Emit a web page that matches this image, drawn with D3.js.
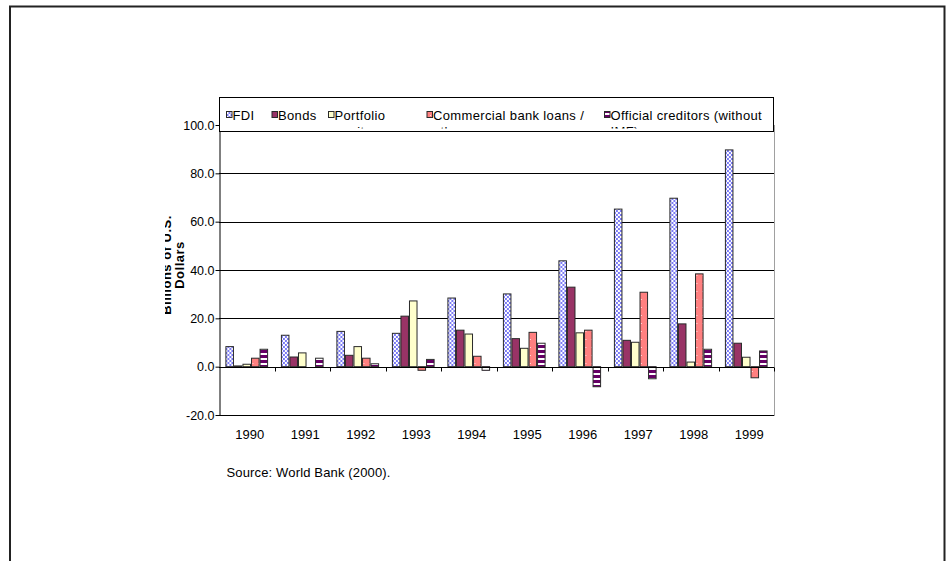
<!DOCTYPE html>
<html>
<head>
<meta charset="utf-8">
<script src="https://cdn.jsdelivr.net/npm/d3@7/dist/d3.min.js"></script>
<style>
  html, body { margin: 0; padding: 0; background: #fff; }
  svg { display: block; font-family: "Liberation Sans", Arial, sans-serif; }
</style>
</head>
<body>
<svg id="chart" width="946" height="561"></svg>
<script>
// Net resource flows, billions of U.S. dollars
const years = ["1990", "1991", "1992", "1993", "1994", "1995", "1996", "1997", "1998", "1999"];
const fdi        = [8.3, 13.0, 14.6, 13.8, 28.4, 30.1, 43.8, 65.2, 69.7, 89.7];
const bonds      = [0.3, 4.0, 4.7, 20.9, 15.1, 11.6, 32.9, 10.9, 17.7, 9.7];
const portfolio  = [1.0, 5.7, 8.3, 27.2, 13.5, 7.6, 14.0, 10.1, 1.9, 3.9];
const commercial = [3.5, 0.0, 3.5, -1.5, 4.3, 14.2, 15.1, 30.8, 38.4, -4.6];
const official   = [7.2, 3.5, 1.2, 3.0, -1.5, 9.7, -8.3, -5.0, 7.2, 6.5];

const seriesNames = ["FDI", "Bonds", "Portfolio", "Commercial bank loans /", "Official creditors (without"];
const seriesSecondLine = ["", "", "equity", "other", "IMF)"];
const seriesValues = [fdi, bonds, portfolio, commercial, official];
const yTicks = [-20, 0, 20, 40, 60, 80, 100];
const sourceNote = "Source: World Bank (2000).";
const axisTitle = ["Billions of U.S.", "Dollars"];

const FONT = "Liberation Sans, Arial, sans-serif";
const svg = d3.select("#chart");
const W = 946, H = 561;

// page frame
svg.append("rect").attr("width", W).attr("height", H).attr("fill", "#fff");
svg.append("path")
  .attr("d", `M10,${H} V6.5 H944.5 V${H}`)
  .attr("fill", "none").attr("stroke", "#222").attr("stroke-width", 2);

// fill patterns
const defs = svg.append("defs");
const pFdi = defs.append("pattern").attr("id", "p-fdi")
  .attr("patternUnits", "userSpaceOnUse").attr("width", 4).attr("height", 4);
pFdi.append("rect").attr("width", 4).attr("height", 4).attr("fill", "#ffffff");
pFdi.append("rect").attr("width", 2).attr("height", 2).attr("fill", "#7b7bf5");
pFdi.append("rect").attr("x", 2).attr("y", 2).attr("width", 2).attr("height", 2).attr("fill", "#7b7bf5");

const pCom = defs.append("pattern").attr("id", "p-com")
  .attr("patternUnits", "userSpaceOnUse").attr("width", 6).attr("height", 8);
pCom.append("rect").attr("width", 6).attr("height", 8).attr("fill", "#ff8080");
pCom.append("rect").attr("x", 3).attr("y", 3).attr("width", 1).attr("height", 1).attr("fill", "#ffe0e0");

const pOff = defs.append("pattern").attr("id", "p-off")
  .attr("patternUnits", "userSpaceOnUse").attr("width", 6).attr("height", 5);
pOff.append("rect").attr("width", 6).attr("height", 5).attr("fill", "#ffffff");
pOff.append("rect").attr("width", 6).attr("height", 3).attr("fill", "#660066");

const fills = ["url(#p-fdi)", "#993366", "#ffffcc", "url(#p-com)", "url(#p-off)"];

// scales
const plot = { left: 219, right: 774, top: 125, bottom: 415 };
const y = d3.scaleLinear().domain([-20, 100]).range([plot.bottom, plot.top]);
const gapRatio = 1.5 / 6.5;
const x0 = d3.scaleBand().domain(years).range([plot.left, plot.right])
  .paddingInner(gapRatio).paddingOuter(gapRatio / 2);
const x1 = d3.scaleBand().domain(d3.range(seriesNames.length)).range([0, x0.bandwidth()]);

// gridlines
svg.append("g").selectAll("line").data(yTicks.filter(v => v > 0))
  .join("line")
  .attr("x1", plot.left).attr("x2", plot.right)
  .attr("y1", d => Math.round(y(d)) + 0.5).attr("y2", d => Math.round(y(d)) + 0.5)
  .attr("stroke", "#000").attr("stroke-width", 1);

// plot area border: bottom dark, right grey
svg.append("line")
  .attr("x1", plot.left).attr("x2", plot.right)
  .attr("y1", Math.round(y(-20)) + 0.5).attr("y2", Math.round(y(-20)) + 0.5)
  .attr("stroke", "#000");
svg.append("line")
  .attr("x1", plot.right + 0.5).attr("x2", plot.right + 0.5)
  .attr("y1", plot.top).attr("y2", plot.bottom + 1)
  .attr("stroke", "#a0a0a0");

// bars
const rows = years.map((yr, i) => ({ year: yr, vals: seriesValues.map(s => s[i]) }));
const groups = svg.append("g").selectAll("g").data(rows).join("g")
  .attr("transform", d => `translate(${x0(d.year)},0)`);
groups.selectAll("rect")
  .data(d => d.vals.map((v, k) => ({ v, k })))
  .join("rect")
  .attr("x", d => x1(d.k) + 0.5)
  .attr("width", x1.bandwidth() - 1)
  .attr("y", d => y(Math.max(0, d.v)))
  .attr("height", d => Math.abs(y(d.v) - y(0)))
  .attr("fill", d => fills[d.k])
  .attr("stroke", "#2a2a2a").attr("stroke-width", 1);

// zero line with category boundary ticks
const zeroY = Math.round(y(0)) + 0.5;
svg.append("line")
  .attr("x1", plot.left).attr("x2", plot.right)
  .attr("y1", zeroY).attr("y2", zeroY)
  .attr("stroke", "#000");
const edgeOffset = (x0.step() - x0.bandwidth()) / 2;
svg.append("g").selectAll("line").data(years)
  .join("line")
  .attr("x1", d => Math.round(x0(d) - edgeOffset + x0.step()) + 0.5)
  .attr("x2", d => Math.round(x0(d) - edgeOffset + x0.step()) + 0.5)
  .attr("y1", zeroY).attr("y2", zeroY + 4)
  .attr("stroke", "#000");

// y axis
const yAxis = svg.append("g")
  .attr("transform", `translate(${plot.left + 0.5},0)`)
  .call(d3.axisLeft(y).tickValues(yTicks).tickFormat(d => d.toFixed(1))
    .tickSize(4).tickSizeOuter(0).tickPadding(1));
yAxis.select(".domain").attr("stroke", "#000");
yAxis.selectAll(".tick line").attr("stroke", "#000");
yAxis.selectAll("text").attr("font-size", "12.5px").attr("fill", "#000")
  .attr("font-family", FONT);

// x axis labels
const xAxis = svg.append("g")
  .attr("transform", `translate(0,${plot.bottom})`)
  .call(d3.axisBottom(x0).tickSize(0).tickPadding(15));
xAxis.select(".domain").remove();
xAxis.selectAll("text").attr("font-size", "13px").attr("fill", "#000")
  .attr("dx", 3).attr("font-family", FONT);

// y axis title (first line runs past the chart edge and is cut)
defs.append("clipPath").attr("id", "clip-title")
  .append("rect").attr("x", 165).attr("y", 0).attr("width", 60).attr("height", H);
const title = svg.append("g").attr("clip-path", "url(#clip-title)")
  .append("g").attr("transform", "translate(170.5,265) rotate(-90)");
title.selectAll("text").data(axisTitle).join("text")
  .attr("x", 0).attr("y", (d, i) => i * 13.5)
  .attr("text-anchor", "middle")
  .attr("font-size", "13px").attr("font-weight", "bold")
  .attr("letter-spacing", "0.5px")
  .attr("fill", "#000")
  .text(d => d);

// legend
const legend = svg.append("g");
legend.append("rect")
  .attr("x", 219.5).attr("y", 97.5).attr("width", 554).attr("height", 34)
  .attr("fill", "#fff").attr("stroke", "#000");
defs.append("clipPath").attr("id", "clip-legend")
  .append("rect").attr("x", 220).attr("y", 98).attr("width", 553).attr("height", 30.5);
const legendX = [232.5, 278, 334.5, 433, 610.5];
const items = legend.append("g").attr("clip-path", "url(#clip-legend)")
  .selectAll("g").data(seriesNames).join("g")
  .attr("transform", (d, i) => `translate(${legendX[i]},0)`);
items.append("rect")
  .attr("x", -6).attr("y", 111.5).attr("width", 5.5).attr("height", 6)
  .attr("fill", (d, i) => fills[i])
  .attr("stroke", "#2a2a2a").attr("stroke-width", 1);
items.append("text")
  .attr("x", 0).attr("y", 120)
  .attr("font-size", "13px").attr("letter-spacing", "0.35px").attr("fill", "#000")
  .text(d => d);
items.append("text")
  .attr("x", 0).attr("y", 135.5)
  .attr("font-size", "13px").attr("letter-spacing", "0.35px").attr("fill", "#000")
  .text((d, i) => seriesSecondLine[i]);

// source note
svg.append("text")
  .attr("x", 226.5).attr("y", 477)
  .attr("font-size", "13px").attr("letter-spacing", "0.15px").attr("fill", "#000")
  .text(sourceNote);
</script>
</body>
</html>
